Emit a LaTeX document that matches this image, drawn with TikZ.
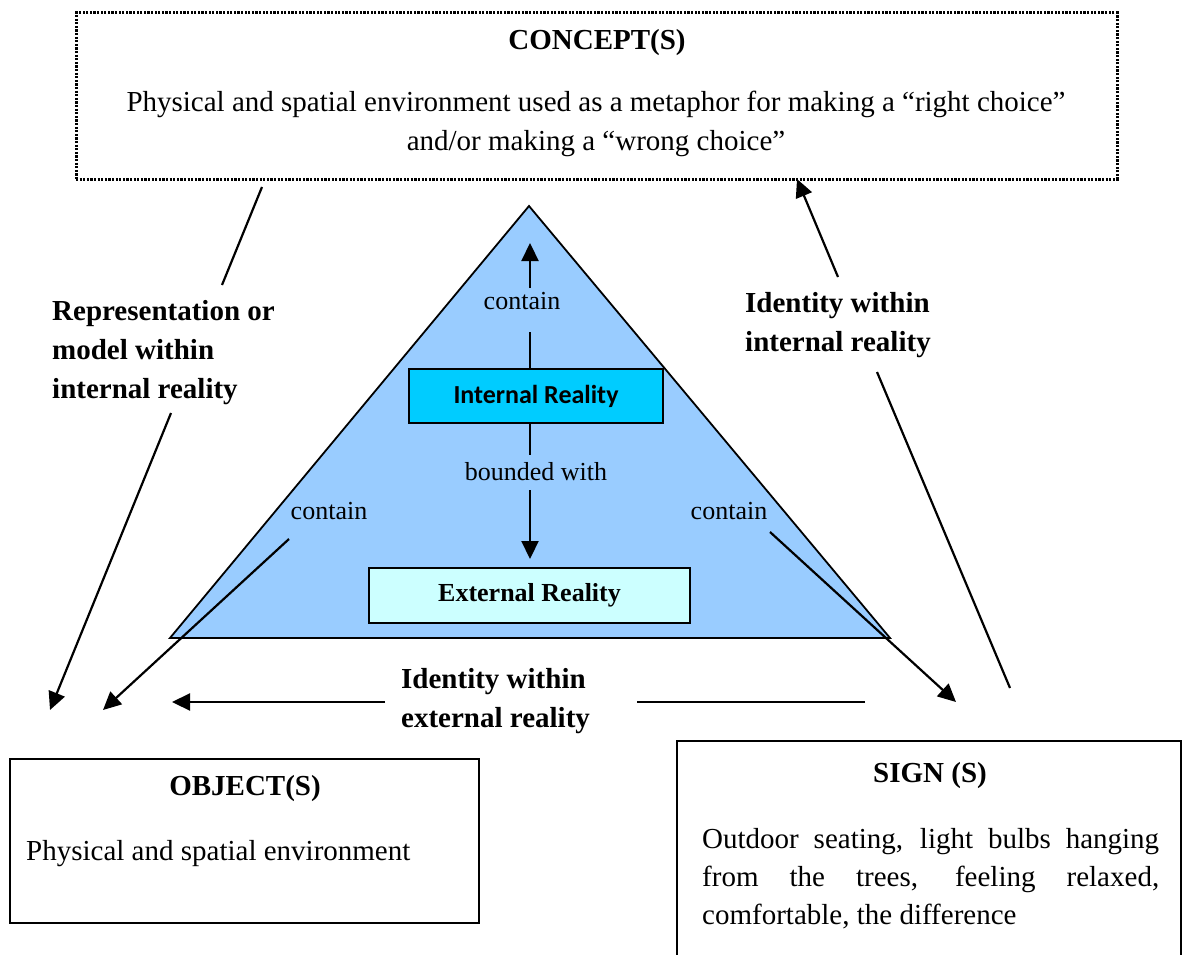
\documentclass[tikz,border=0pt]{standalone}
\usepackage{fontspec}
\setmainfont{Liberation Serif}
\newfontfamily\calibri{Carlito}
\usetikzlibrary{arrows.meta}
\definecolor{triblue}{HTML}{99CCFF}
\definecolor{intblue}{HTML}{00CCFF}
\definecolor{extblue}{HTML}{CCFFFF}
\begin{document}
\begin{tikzpicture}[x=1pt,y=-1pt,
  bodytxt/.style={font=\fontsize{29}{38}\selectfont, inner sep=0pt},
  smalltxt/.style={font=\fontsize{26}{30}\selectfont, inner sep=0pt},
  labeltxt/.style={font=\fontsize{29}{39}\selectfont\bfseries, inner sep=0pt, anchor=base west},
  solidbox/.style={draw, line width=2pt, inner sep=0pt},
  conceptbox/.style={draw, line width=3pt, dash pattern=on 2.2pt off 1.4pt, inner sep=0pt},
  conn/.style={line width=2.2pt},
  arr/.style={line width=2.2pt, -{Triangle[length=18pt,width=17pt]}},
]
\useasboundingbox (0,0) rectangle (1183,955);
\clip (0,0) rectangle (1183,955);

% ---- concept box ----
\node[conceptbox, minimum width=1041pt, minimum height=166pt] (concept) at (596.5,96) {};
\node[bodytxt, anchor=base, font=\fontsize{29}{38}\selectfont\bfseries] (concepttitle) at (597,50) {CONCEPT(S)};
\node[bodytxt, anchor=base] (conceptl1) at (596,112) {Physical and spatial environment used as a metaphor for making a “right choice”};
\node[bodytxt, anchor=base] (conceptl2) at (596,150) {and/or making a “wrong choice”};

% ---- triangle ----
\coordinate (apex) at (529,206);
\coordinate (baseR) at (890,638);
\coordinate (baseL) at (170,638);
\draw[fill=triblue, line width=1.8pt, line join=miter] (apex) -- (baseR) -- (baseL) -- cycle;

% ---- reality boxes ----
\node[solidbox, fill=intblue, minimum width=254pt, minimum height=54pt,
      font=\calibri\bfseries\fontsize{26}{30}\selectfont] (ir) at (536,396) {Internal Reality};
\node[solidbox, fill=extblue, minimum width=321pt, minimum height=55pt,
      font=\fontsize{26}{30}\selectfont\bfseries] (er) at (529.5,595.5) {External Reality};

% ---- labels inside the triangle ----
\node[smalltxt, anchor=base] (ctop) at (522,309) {contain};
\node[smalltxt, anchor=base] (bwith) at (536,480) {bounded with};
\node[smalltxt, anchor=base] (cleft) at (329,519) {contain};
\node[smalltxt, anchor=base] (cright) at (729,519) {contain};

% ---- inner connectors ----
\coordinate (upA) at (530,369);
\coordinate (upB) at (530,332);
\coordinate (upC) at (530,288);
\coordinate (upTip) at (530,243);
\draw[conn] (upA) -- (upB);
\draw[arr] (upC) -- (upTip);

\coordinate (dnA) at (530,423);
\coordinate (dnB) at (530,455);
\coordinate (dnC) at (530,490);
\coordinate (dnTip) at (530,559);
\draw[conn] (dnA) -- (dnB);
\draw[arr] (dnC) -- (dnTip);

\coordinate (clStart) at (289,539);
\coordinate (clTip) at (103,710);
\draw[arr] (clStart) -- (clTip);

\coordinate (crStart) at (770,532);
\coordinate (crTip) at (956,702);
\draw[arr] (crStart) -- (crTip);

% ---- outer labels ----
\node[labeltxt] (replabel) at (52,320)
  {\begin{tabular}[t]{@{}l@{}}Representation or\\model within\\internal reality\end{tabular}};
\node[labeltxt] (intlabel) at (745,312)
  {\begin{tabular}[t]{@{}l@{}}Identity within\\internal reality\end{tabular}};
\node[labeltxt] (extlabel) at (401,688)
  {\begin{tabular}[t]{@{}l@{}}Identity within\\external reality\end{tabular}};

% ---- outer connectors ----
\coordinate (lA) at (262,187);
\coordinate (lB) at (222,285);
\coordinate (lC) at (171,413);
\coordinate (lTip) at (50,710);
\draw[conn] (lA) -- (lB);
\draw[arr] (lC) -- (lTip);

\coordinate (rA) at (1010,688);
\coordinate (rB) at (877,372);
\coordinate (rC) at (838,277);
\coordinate (rTip) at (797,179);
\draw[conn] (rA) -- (rB);
\draw[arr] (rC) -- (rTip);

\coordinate (bA) at (865,702);
\coordinate (bB) at (637,702);
\coordinate (bC) at (385,702);
\coordinate (bTip) at (172,702);
\draw[conn] (bA) -- (bB);
\draw[arr] (bC) -- (bTip);

% ---- object box ----
\node[solidbox, minimum width=469pt, minimum height=164pt] (object) at (244.5,841) {};
\node[bodytxt, anchor=base, font=\fontsize{29}{38}\selectfont\bfseries] (objtitle) at (245,795) {OBJECT(S)};
\node[bodytxt, anchor=base west] (objbody) at (26,860) {Physical and spatial environment};

% ---- sign box ----
\node[solidbox, minimum width=504pt, minimum height=240pt] (sign) at (929,861) {};
\node[bodytxt, anchor=base, font=\fontsize{29}{38}\selectfont\bfseries] (signtitle) at (930,782) {SIGN (S)};
\node[bodytxt, anchor=base west] (signbody) at (702,848)
  {\parbox[t]{457pt}{Outdoor seating, light bulbs hanging\linebreak
   from the trees, feeling relaxed,\linebreak comfortable, the difference}};
\end{tikzpicture}
\end{document}
